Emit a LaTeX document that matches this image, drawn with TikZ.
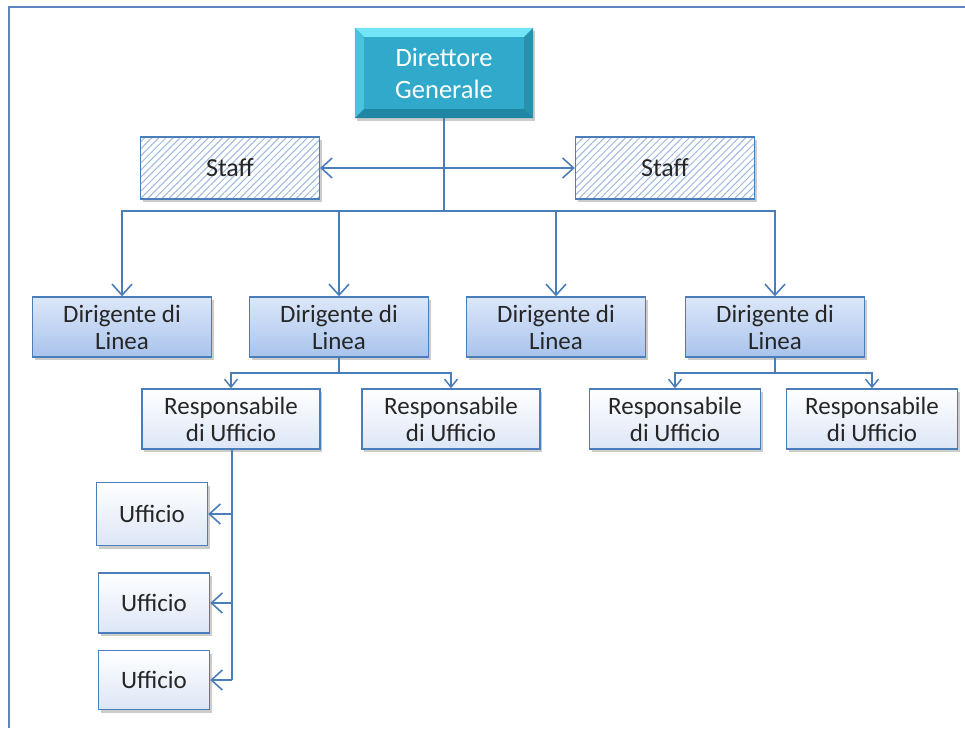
\documentclass[tikz,border=0pt]{standalone}
\usepackage{fontspec}
\setmainfont{Carlito}
\usetikzlibrary{arrows.meta,patterns.meta,shadows}
\definecolor{ln}{HTML}{4A7EBB}
\definecolor{txt}{HTML}{262626}
\definecolor{frm}{HTML}{5B86C0}
\definecolor{hatch}{HTML}{9DB9E2}
\definecolor{dirA}{HTML}{DCE7F9}
\definecolor{dirB}{HTML}{A9C3EC}
\definecolor{resA}{HTML}{FFFFFF}
\definecolor{resB}{HTML}{DCE6F6}
\definecolor{teal}{HTML}{31A9CA}
\definecolor{tealL}{HTML}{72E6F7}
\definecolor{tealM}{HTML}{4CC3DE}
\definecolor{tealD}{HTML}{1F86A4}
\begin{document}
\begin{tikzpicture}[x=1pt,y=-1pt,
  shad/.style={drop shadow={shadow xshift=2pt,shadow yshift=-3pt,fill=black!50,opacity=.4}},
  box/.style={draw=ln, line width=1.4pt, align=center, text=txt, inner sep=0pt,
    font=\fontsize{25}{27}\selectfont, shad},
  dirbox/.style={box, top color=dirA, bottom color=dirB, minimum width=179pt, minimum height=60pt},
  resbox/.style={box, top color=resA, bottom color=resB, minimum height=60pt},
  staffbox/.style={box, preaction={fill=white}, pattern={Lines[angle=45,distance=5pt,line width=1pt]}, pattern color=hatch, minimum width=179pt, minimum height=62pt, font=\fontsize{26}{28}\selectfont},
  conn/.style={draw=ln, line width=1.8pt},
  bigarr/.style={conn, -{Straight Barb[length=11pt,width=20pt,line width=1.6pt]}},
  smallarr/.style={conn, -{Straight Barb[length=8pt,width=13pt,line width=1.5pt]}},
  frame/.style={draw=frm, line width=2.4pt}
]
\useasboundingbox (0,0) rectangle (965,728);
\fill[white] (0,0) rectangle (965,728);
\draw[frame] (965,7) -- (9,7) -- (9,728);

% Director
\node[minimum width=178pt, minimum height=90pt, fill=teal, inner sep=0pt, shad] (dir) at (444,73) {};
\fill[tealL] (dir.north west) -- (dir.north east) -- ([xshift=-9pt,yshift=-9pt]dir.north east) -- ([xshift=9pt,yshift=-9pt]dir.north west) -- cycle;
\fill[tealM] (dir.north west) -- ([xshift=9pt,yshift=-9pt]dir.north west) -- ([xshift=9pt,yshift=9pt]dir.south west) -- (dir.south west) -- cycle;
\fill[teal!85!black] (dir.north east) -- ([xshift=-9pt,yshift=-9pt]dir.north east) -- ([xshift=-9pt,yshift=9pt]dir.south east) -- (dir.south east) -- cycle;
\fill[tealD] (dir.south west) -- ([xshift=9pt,yshift=9pt]dir.south west) -- ([xshift=-9pt,yshift=9pt]dir.south east) -- (dir.south east) -- cycle;
\node[align=center, text=white, font=\fontsize{26.5}{32}\selectfont] (dirt) at (dir.center) {Direttore\\Generale};

% Staff
\node[staffbox] (stL) at (230,168) {Staff};
\node[staffbox] (stR) at (665,168) {Staff};

% Dirigenti
\node[dirbox] (dl1) at (122,327) {Dirigente di\\Linea};
\node[dirbox] (dl2) at (339,327) {Dirigente di\\Linea};
\node[dirbox] (dl3) at (556,327) {Dirigente di\\Linea};
\node[dirbox] (dl4) at (775,327) {Dirigente di\\Linea};

% Responsabili
\node[resbox, minimum width=178pt] (r1) at (231,419) {Responsabile\\di Ufficio};
\node[resbox, minimum width=178pt] (r2) at (451,419) {Responsabile\\di Ufficio};
\node[resbox, minimum width=171pt] (r3) at (675,419) {Responsabile\\di Ufficio};
\node[resbox, minimum width=171pt] (r4) at (872,419) {Responsabile\\di Ufficio};

% Uffici
\node[resbox, minimum width=111pt, minimum height=63pt] (u1) at (152,514) {Ufficio};
\node[resbox, minimum width=111pt, minimum height=60pt] (u2) at (154,603) {Ufficio};
\node[resbox, minimum width=111pt, minimum height=59pt] (u3) at (154,680) {Ufficio};

% Connectors
\coordinate (bus) at (444,211);
\draw[conn] (dir.south) -- (bus);
\draw[bigarr] (bus) -| (dl1.north);
\draw[bigarr] (bus) -| (dl2.north);
\draw[bigarr] (bus) -| (dl3.north);
\draw[bigarr] (bus) -| (dl4.north);
\draw[conn, {Straight Barb[length=11pt,width=20pt,line width=1.6pt]}-{Straight Barb[length=11pt,width=20pt,line width=1.6pt]}] (stL.east) -- (stR.west);

\coordinate (j2) at (339,373);
\draw[conn] (dl2.south) -- (j2);
\draw[smallarr] (j2) -| (r1.north);
\draw[smallarr] (j2) -| (r2.north);

\coordinate (j4) at (775,373);
\draw[conn] (dl4.south) -- (j4);
\draw[smallarr] (j4) -| (r3.north);
\draw[smallarr] (j4) -| (r4.north);

\coordinate (vend) at ([xshift=1pt]r1.south |- u3.east);
\draw[conn] ([xshift=1pt]r1.south) -- (vend);
\draw[bigarr] ([xshift=1pt]r1.south |- u1.east) -- (u1.east);
\draw[bigarr] ([xshift=1pt]r1.south |- u2.east) -- (u2.east);
\draw[bigarr] (vend) -- (u3.east);
\end{tikzpicture}
\end{document}
